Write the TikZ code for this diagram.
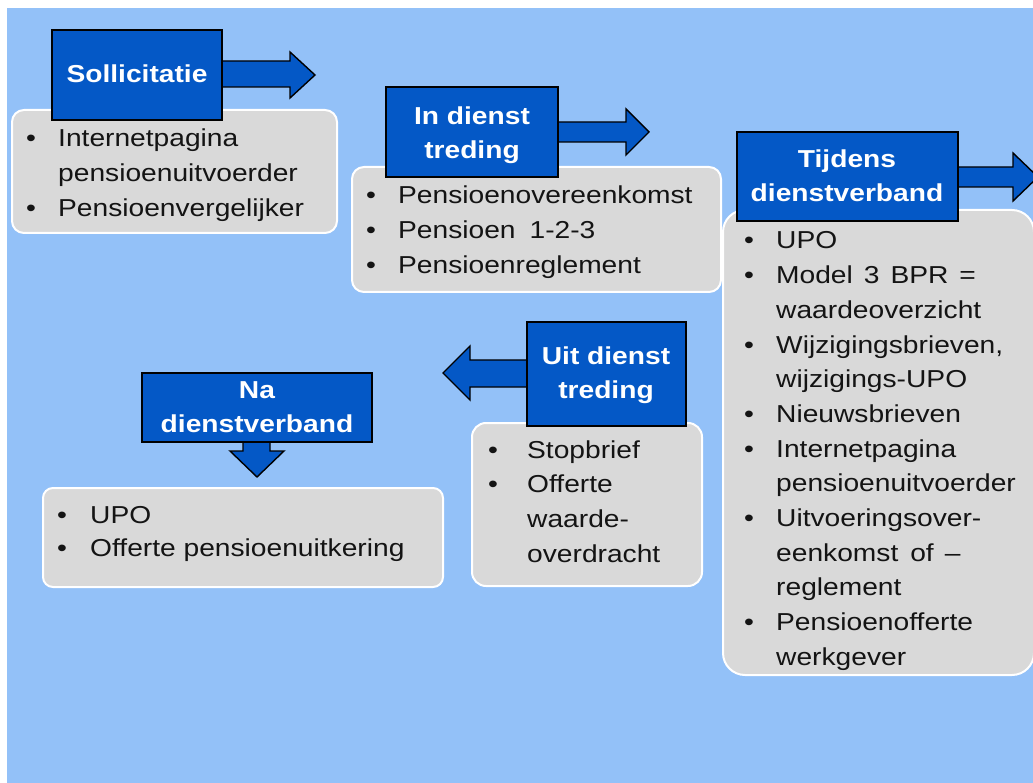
\documentclass[tikz,border=0pt]{standalone}
\usepackage{fontspec}
\setmainfont{Liberation Sans}[FakeStretch=1.15]
\definecolor{bgblue}{RGB}{147,193,248}
\definecolor{boxblue}{RGB}{4,88,198}
\definecolor{boxgray}{RGB}{217,217,217}
\definecolor{txt}{RGB}{20,20,20}
\newcommand{\bl}[2]{\makebox[#1][l]{\textbullet}#2}
\newcommand{\cl}[2]{\hspace*{#1}#2}
\begin{document}
\begin{tikzpicture}[x=1pt,y=-1pt,
  bluebox/.style={draw=black, line width=1.4pt, fill=boxblue, line join=miter},
  graybox/.style={draw=white, line width=2pt, fill=boxgray},
  titletext/.style={anchor=base, inner sep=0pt, text=white, font=\bfseries\fontsize{24.5}{34}\selectfont},
  listtext/.style={anchor=base west, inner sep=0pt, text=txt, font=\fontsize{24.5}{34.7}\selectfont}]
\useasboundingbox (0,0) rectangle (1033,783);
\clip (0,0) rectangle (1033,783);
\fill[white] (0,0) rectangle (1033,783);
\fill[bgblue] (7,8) rectangle (1040,790);

% gray boxes
\draw[graybox, rounded corners=12pt] (12,110) rectangle (337,233);
\draw[graybox, rounded corners=12pt] (352,167) rectangle (721,292);
\draw[graybox, rounded corners=22pt] (723,210) rectangle (1034,675);
\draw[graybox, rounded corners=14pt] (472,423) rectangle (702,586);
\draw[graybox, rounded corners=10pt] (43,488) rectangle (443,587);

% arrows
\draw[bluebox] (200,61) -- (290,61) -- (290,52) -- (315,75) -- (290,98) -- (290,87) -- (200,87) -- cycle;
\draw[bluebox] (540,122) -- (626,122) -- (626,109) -- (649,132) -- (626,155) -- (626,142) -- (540,142) -- cycle;
\draw[bluebox] (940,167) -- (1013,167) -- (1013,153) -- (1038,177) -- (1013,201) -- (1013,187) -- (940,187) -- cycle;
\draw[bluebox] (540,360) -- (470,360) -- (470,346) -- (443,373) -- (470,400) -- (470,387) -- (540,387) -- cycle;
\draw[bluebox] (243,430) -- (243,451) -- (230,451) -- (257,477) -- (284,451) -- (270,451) -- (270,430) -- cycle;

% blue boxes
\draw[bluebox] (52,30) rectangle (222,120);
\draw[bluebox] (386,87) rectangle (558,177);
\draw[bluebox] (737,132) rectangle (958,221);
\draw[bluebox] (527,322) rectangle (686,426);
\draw[bluebox] (142,373) rectangle (372,442);

% titles
\node[titletext] (t1) at (137,83) {Sollicitatie};
\node[titletext] (t2) at (472,125) {\parbox[t]{200pt}{\centering In dienst\\treding}};
\node[titletext] (t3) at (847,168) {\parbox[t]{230pt}{\centering Tijdens\\dienstverband}};
\node[titletext] (t4) at (606,365) {\parbox[t]{200pt}{\centering Uit dienst\\treding}};
\node[titletext] (t5) at (257,399) {\parbox[t]{230pt}{\centering Na\\dienstverband}};

% lists
\node[listtext] (l1) at (26,147) {\parbox[t]{320pt}{\raggedright
\bl{32pt}{Internetpagina}\\
\cl{32pt}{pensioenuitvoerder}\\
\bl{32pt}{Pensioenvergelijker}}};
\node[listtext] (l2) at (366,204) {\parbox[t]{360pt}{\raggedright
\bl{32pt}{Pensioenovereenkomst}\\
\bl{32pt}{Pensioen\hspace{14pt}1-2-3}\\
\bl{32pt}{Pensioenreglement}}};
\node[listtext] (l3) at (744,249) {\parbox[t]{300pt}{\raggedright
\bl{32pt}{UPO}\\
\bl{32pt}{Model\hspace{11pt}3\hspace{11pt}BPR\hspace{11pt}=}\\
\cl{32pt}{waardeoverzicht}\\
\bl{32pt}{Wijzigingsbrieven,}\\
\cl{32pt}{wijzigings-UPO}\\
\bl{32pt}{Nieuwsbrieven}\\
\bl{32pt}{Internetpagina}\\
\cl{32pt}{pensioenuitvoerder}\\
\bl{32pt}{Uitvoeringsover-}\\
\cl{32pt}{eenkomst\hspace{12pt}of\hspace{11pt}–}\\
\cl{32pt}{reglement}\\
\bl{32pt}{Pensioenofferte}\\
\cl{32pt}{werkgever}}};
\node[listtext] (l4) at (488,458) {\parbox[t]{220pt}{\raggedright
\bl{39pt}{Stopbrief}\\
\bl{39pt}{Offerte}\\
\cl{39pt}{waarde-}\\
\cl{39pt}{overdracht}}};
\node[listtext] (l5) at (57,523) {\parbox[t]{390pt}{\raggedright
\bl{33pt}{UPO}\\[-1.7pt]
\bl{33pt}{Offerte pensioenuitkering}}};
\end{tikzpicture}
\end{document}
